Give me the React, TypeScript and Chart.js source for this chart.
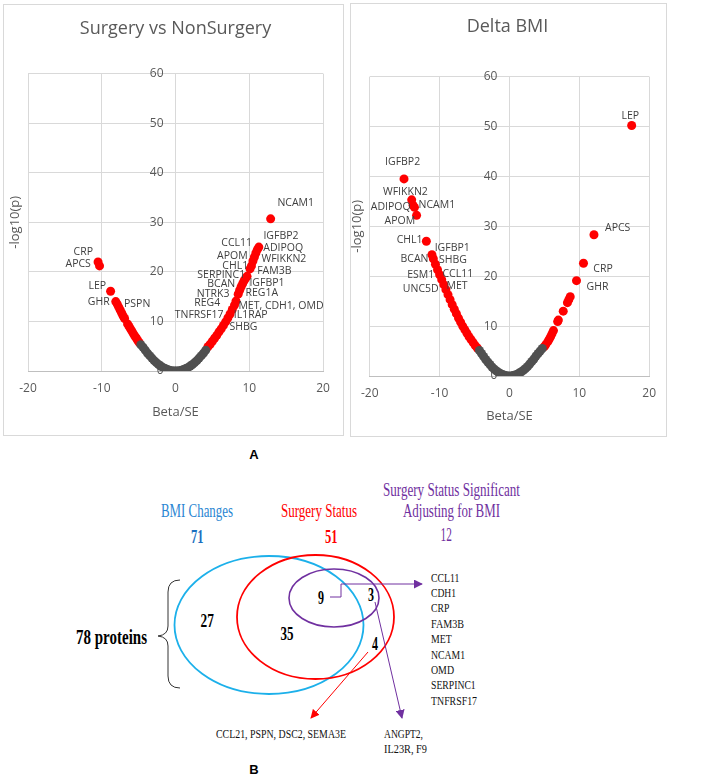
import React, { useEffect, useRef } from "react";
import { Chart, registerables } from "chart.js";

Chart.register(...registerables);

const FONT = "'Open Sans', sans-serif";
const SERIF = "'Liberation Serif', 'Times New Roman', serif";
const AXIS_TEXT = "#595959";
const LABEL_TEXT = "#404040";
const GRID = "#d9d9d9";
const RED = "#ff0000";
const GRAY = "#505050";

const yTickValues = [0, 10, 20, 30, 40, 50, 60];

// ---- Surgery vs NonSurgery ----
const surgGrayX = [-4.7, -4.4, -4.1, -3.8, -3.5, -3.2, -2.9, -2.6, -2.3, -2.0, -1.7, -1.4, -1.1, -0.8, -0.5, -0.2, 0, 0.2, 0.5, 0.8, 1.1, 1.4, 1.7, 2.0, 2.3, 2.6, 2.9, 3.2, 3.5, 3.8, 4.1];
const surgGrayY = [5.3, 4.8, 4.2, 3.6, 3.1, 2.6, 2.1, 1.7, 1.3, 1.0, 0.7, 0.5, 0.3, 0.15, 0.06, 0.01, 0, 0.01, 0.06, 0.15, 0.3, 0.5, 0.7, 1.0, 1.3, 1.7, 2.1, 2.6, 3.1, 3.6, 4.2];
const surgRedX = [-4.9, -5.1, -5.3, -5.5, -5.7, -5.9, -6.1, -6.3, -6.5, -6.9, -7.1, -7.3, -7.5, -7.7, -7.9, -8.1, -8.8, -10.3, -10.5,
  4.4, 4.7, 5.0, 5.3, 5.6, 5.9, 6.2, 6.5, 6.8, 7.1, 7.4, 7.7, 8.0, 8.2, 8.5, 8.7, 8.9, 9.1, 9.3, 9.5, 9.7, 10.1, 10.3, 10.5, 10.7, 10.9, 11.1, 11.3, 12.9];
const surgRedY = [5.7, 6.1, 6.6, 7.0, 7.5, 8.0, 8.5, 9.0, 9.5, 10.6, 11.1, 11.7, 12.3, 12.9, 13.5, 14.0, 16.1, 21.2, 22.0,
  4.9, 5.4, 6.0, 6.6, 7.2, 7.9, 8.5, 9.2, 9.9, 10.7, 11.5, 12.4, 13.3, 14.1, 15.5, 16.3, 17.0, 17.6, 18.2, 18.7, 19.1, 20.6, 21.2, 22.2, 23.0, 23.8, 24.5, 25.0, 30.7];
const surgLabelText = ["NCAM1", "IGFBP2", "CCL11", "ADIPOQ", "APOM", "WFIKKN2", "CHL1", "FAM3B", "SERPINC1", "IGFBP1", "BCAN", "REG1A", "NTRK3", "REG4", "MET, CDH1, OMD", "TNFRSF17", "IL1RAP", "SHBG", "CRP", "APCS", "LEP", "GHR", "PSPN"];
const surgLabelX = [16.3, 14.3, 8.3, 14.6, 7.7, 14.7, 8.1, 13.4, 6.2, 12.4, 6.2, 11.7, 5.1, 4.3, 14.3, 3.2, 10.2, 9.2, -12.5, -13.2, -10.6, -10.4, -5.2];
const surgLabelY = [33.9, 27.3, 25.9, 24.8, 23.2, 22.6, 21.2, 20.2, 19.4, 17.8, 17.6, 15.8, 15.6, 13.7, 13.1, 11.3, 11.3, 8.9, 24.0, 21.6, 17.2, 13.9, 13.5];

// ---- Delta BMI ----
const bmiGrayX = [-4.3, -4.0, -3.7, -3.4, -3.1, -2.8, -2.5, -2.2, -1.9, -1.6, -1.3, -1.0, -0.7, -0.4, -0.1, 0.2, 0.5, 0.8, 1.1, 1.4, 1.7, 2.0, 2.3, 2.6, 2.9, 3.2, 3.5, 3.8, 4.1, 4.4, 4.7];
const bmiGrayY = [5.1, 4.5, 3.9, 3.3, 2.8, 2.3, 1.8, 1.4, 1.05, 0.75, 0.5, 0.3, 0.15, 0.05, 0, 0.01, 0.08, 0.2, 0.35, 0.6, 0.85, 1.15, 1.5, 1.9, 2.4, 2.9, 3.4, 4.0, 4.5, 5.0, 5.5];
const bmiRedX = [-4.6, -4.9, -5.2, -5.5, -5.8, -6.1, -6.4, -6.7, -7.0, -7.3, -7.6, -7.9, -8.2, -8.5, -8.8, -9.1, -9.4, -9.7, -10.0, -10.3, -10.6, -10.9, -11.1, -11.9, -13.3, -13.6, -13.8, -14.0, -15.1,
  5.0, 5.2, 5.5, 5.7, 5.9, 6.1, 6.3, 6.9, 7.0, 7.7, 8.3, 8.5, 8.7, 9.6, 10.6, 12.1, 17.5];
const bmiRedY = [5.6, 6.1, 6.7, 7.3, 7.9, 8.6, 9.3, 10.0, 10.8, 11.6, 12.5, 13.4, 14.3, 15.3, 16.3, 17.3, 18.3, 19.3, 20.3, 21.3, 22.4, 23.5, 24.3, 27.0, 32.2, 33.8, 34.2, 35.3, 39.5,
  5.9, 6.3, 6.9, 7.4, 7.9, 8.5, 9.1, 10.9, 11.2, 13.0, 14.7, 15.3, 15.9, 19.1, 22.6, 28.3, 50.2];
const bmiLabelText = ["LEP", "APCS", "CRP", "GHR", "IGFBP2", "WFIKKN2", "ADIPOQ", "NCAM1", "APOM", "CHL1", "IGFBP1", "BCAN", "SHBG", "ESM1", "CCL11", "UNC5D", "MET"];
const bmiLabelX = [17.3, 15.5, 13.4, 12.6, -15.3, -14.9, -17.0, -10.4, -15.7, -14.3, -8.2, -13.6, -8.1, -12.7, -7.4, -12.7, -7.5];
const bmiLabelY = [52.2, 29.6, 21.5, 17.9, 42.9, 36.9, 33.8, 34.2, 31.0, 27.2, 25.7, 23.4, 23.2, 20.3, 20.5, 17.5, 18.1];

type PanelSpec = {
  title: string;
  grayX: number[]; grayY: number[];
  redX: number[]; redY: number[];
  labelText: string[]; labelX: number[]; labelY: number[];
  width: number; height: number;
  pad: { left: number; right: number };
  titlePad: { top: number; bottom: number };
  xAxisHeight: number; xTitleBottom: number;
  yTitleX: number;
};

const pts = (xs: number[], ys: number[]) => xs.map((x, i) => ({ x, y: ys[i] }));

function decorPlugin(spec: PanelSpec) {
  return {
    id: "volcanoDecor",
    beforeDatasetsDraw(chart: any) {
      const { ctx, chartArea } = chart;
      const xs = chart.scales.x;
      const ys = chart.scales.y;
      const x0 = xs.getPixelForValue(0);
      ctx.save();
      ctx.fillStyle = AXIS_TEXT;
      ctx.font = `12px ${FONT}`;
      ctx.textAlign = "right";
      ctx.textBaseline = "middle";
      yTickValues.forEach((v) => ctx.fillText(String(v), x0 - 12, ys.getPixelForValue(v)));
      ctx.translate(spec.yTitleX, (chartArea.top + chartArea.bottom) / 2);
      ctx.rotate(-Math.PI / 2);
      ctx.font = `13px ${FONT}`;
      ctx.textAlign = "center";
      ctx.fillText("-log10(p)", 0, 0);
      ctx.restore();
    },
    afterDatasetsDraw(chart: any) {
      const { ctx } = chart;
      const xs = chart.scales.x;
      const ys = chart.scales.y;
      ctx.save();
      ctx.fillStyle = LABEL_TEXT;
      ctx.font = `10.5px ${FONT}`;
      ctx.textAlign = "center";
      ctx.textBaseline = "middle";
      spec.labelText.forEach((t, i) => {
        ctx.fillText(t, xs.getPixelForValue(spec.labelX[i]), ys.getPixelForValue(spec.labelY[i]));
      });
      ctx.restore();
    },
  };
}

function Volcano({ spec, style }: { spec: PanelSpec; style: React.CSSProperties }) {
  const ref = useRef<HTMLCanvasElement | null>(null);
  useEffect(() => {
    if (!ref.current) return;
    const chart = new Chart(ref.current, {
      type: "scatter",
      data: {
        datasets: [
          { label: "ns", data: pts(spec.grayX, spec.grayY), backgroundColor: GRAY, borderWidth: 0, pointRadius: 4.5 },
          { label: "sig", data: pts(spec.redX, spec.redY), backgroundColor: RED, borderWidth: 0, pointRadius: 4.5 },
        ],
      },
      options: {
        animation: false,
        responsive: false,
        layout: { padding: { left: spec.pad.left, right: spec.pad.right, top: 0, bottom: 0 } },
        plugins: {
          legend: { display: false },
          tooltip: { enabled: false },
          title: {
            display: true,
            text: spec.title,
            color: AXIS_TEXT,
            font: { family: FONT, size: 18, weight: "normal" },
            padding: spec.titlePad,
          },
        },
        scales: {
          x: {
            type: "linear",
            min: -20,
            max: 20,
            ticks: { stepSize: 10, color: AXIS_TEXT, font: { family: FONT, size: 12 }, padding: 10, maxRotation: 0 },
            grid: { color: GRID, drawTicks: false },
            border: { color: "#bfbfbf" },
            title: { display: true, text: "Beta/SE", color: AXIS_TEXT, font: { family: FONT, size: 13 }, padding: { top: 0, bottom: spec.xTitleBottom } },
            afterFit: (scale: any) => { scale.height = spec.xAxisHeight; },
          },
          y: {
            type: "linear",
            min: 0,
            max: 60,
            ticks: { display: false, stepSize: 10 },
            grid: { color: GRID, drawTicks: false },
            border: { display: false },
          },
        },
      },
      plugins: [decorPlugin(spec)],
    } as any);
    return () => chart.destroy();
  }, [spec]);
  return <canvas ref={ref} width={spec.width} height={spec.height} style={{ position: "absolute", ...style }} />;
}

const surgSpec: PanelSpec = {
  title: "Surgery vs NonSurgery",
  grayX: surgGrayX, grayY: surgGrayY, redX: surgRedX, redY: surgRedY,
  labelText: surgLabelText, labelX: surgLabelX, labelY: surgLabelY,
  width: 340, height: 431,
  pad: { left: 24, right: 21 },
  titlePad: { top: 13, bottom: 34 },
  xAxisHeight: 65, xTitleBottom: 16,
  yTitleX: 11,
};

const bmiSpec: PanelSpec = {
  title: "Delta BMI",
  grayX: bmiGrayX, grayY: bmiGrayY, redX: bmiRedX, redY: bmiRedY,
  labelText: bmiLabelText, labelX: bmiLabelX, labelY: bmiLabelY,
  width: 315, height: 432,
  pad: { left: 12, right: 14 },
  titlePad: { top: 12, bottom: 39 },
  xAxisHeight: 60, xTitleBottom: 12,
  yTitleX: 6,
};

function T({ x, y, w, size, fill, bold, children, font }: any) {
  return (
    <text x={x} y={y} fontSize={size} fill={fill} fontWeight={bold ? "bold" : "normal"} fontFamily={font || SERIF}
      dominantBaseline="central" textLength={w} lengthAdjust="spacingAndGlyphs">{children}</text>
  );
}

const geneList = ["CCL11", "CDH1", "CRP", "FAM3B", "MET", "NCAM1", "OMD", "SERPINC1", "TNFRSF17"];
const geneWidths = [28.3, 25, 18.3, 33, 20.7, 34, 23, 44.7, 46];

function Venn() {
  const oy = 440;
  const Y = (v: number) => v - oy;
  const BLUE_T = "#2a86d2";
  const BLUE_N = "#1a6fc0";
  const CYAN = "#1cb0ea";
  const PURPLE = "#7030a0";
  return (
    <svg width={709} height={337} style={{ position: "absolute", left: 0, top: oy }}>
      <defs>
        <marker id="pArrow" viewBox="0 0 10 10" refX="9" refY="5" markerWidth="9" markerHeight="9" markerUnits="userSpaceOnUse" orient="auto">
          <path d="M0,0 L10,5 L0,10 z" fill={PURPLE} />
        </marker>
        <marker id="rArrow" viewBox="0 0 10 10" refX="9" refY="5" markerWidth="9" markerHeight="9" markerUnits="userSpaceOnUse" orient="auto">
          <path d="M0,0 L10,5 L0,10 z" fill={RED} />
        </marker>
      </defs>
      <text x={254} y={Y(454)} fontSize={13} fontWeight="bold" fontFamily="'Liberation Sans', Arial, sans-serif" textAnchor="middle" dominantBaseline="central">A</text>
      <text x={254} y={Y(769)} fontSize={13} fontWeight="bold" fontFamily="'Liberation Sans', Arial, sans-serif" textAnchor="middle" dominantBaseline="central">B</text>

      <T x={161} y={Y(511)} w={72} size={18} fill={BLUE_T}>BMI Changes</T>
      <T x={191} y={Y(537)} w={12.5} size={18} fill={BLUE_N} bold>71</T>
      <T x={281} y={Y(511)} w={76} size={18} fill={RED}>Surgery Status</T>
      <T x={325} y={Y(537)} w={12.5} size={18} fill={RED} bold>51</T>
      <T x={383} y={Y(490)} w={137} size={18} fill={PURPLE}>Surgery Status Significant</T>
      <T x={403} y={Y(511)} w={97} size={18} fill={PURPLE}>Adjusting for BMI</T>
      <T x={440.5} y={Y(535)} w={11.3} size={18} fill={PURPLE}>12</T>

      <ellipse cx={269} cy={Y(625)} rx={94.5} ry={69} fill="none" stroke={CYAN} strokeWidth={1.8} />
      <ellipse cx={315.5} cy={Y(617)} rx={78.5} ry={62} fill="none" stroke={RED} strokeWidth={1.8} />
      <ellipse cx={334} cy={Y(598)} rx={45} ry={29} fill="none" stroke={PURPLE} strokeWidth={1.6} />

      <path d={`M180,${Y(580)} Q168,${Y(580)} 168,${Y(592)} L168,${Y(626)} Q168,${Y(635)} 158,${Y(636)} Q168,${Y(637)} 168,${Y(646)} L168,${Y(676)} Q168,${Y(688)} 180,${Y(688)}`}
        fill="none" stroke="#333" strokeWidth={1} />

      <T x={76} y={Y(636)} w={71} size={22} fill="#000" bold>78 proteins</T>
      <T x={200.5} y={Y(621)} w={13.3} size={18} fill="#000" bold>27</T>
      <T x={280.5} y={Y(634)} w={13} size={18} fill="#000" bold>35</T>
      <T x={318} y={Y(598)} w={6} size={18} fill="#000" bold>9</T>
      <T x={368} y={Y(595)} w={6} size={18} fill="#000" bold>3</T>
      <T x={372} y={Y(644)} w={6} size={18} fill="#000" bold>4</T>

      <polyline points={`330,${Y(597)} 341,${Y(597)} 341,${Y(584)} 422,${Y(584)}`} fill="none" stroke={PURPLE} strokeWidth={1} markerEnd="url(#pArrow)" />
      <line x1={375} y1={Y(602)} x2={402} y2={Y(718)} stroke={PURPLE} strokeWidth={1} markerEnd="url(#pArrow)" />
      <line x1={368} y1={Y(652)} x2={311} y2={Y(718)} stroke={RED} strokeWidth={1} markerEnd="url(#rArrow)" />

      {geneList.map((g, i) => (
        <T key={g} x={431} y={Y(577 + i * 15.4)} w={geneWidths[i]} size={13} fill="#111">{g}</T>
      ))}
      <T x={216} y={Y(733)} w={130} size={13} fill="#111">CCL21, PSPN, DSC2, SEMA3E</T>
      <T x={384} y={Y(733)} w={39} size={13} fill="#111">ANGPT2,</T>
      <T x={384} y={Y(748)} w={43} size={13} fill="#111">IL23R,  F9</T>
    </svg>
  );
}

export default function App() {
  return (
    <div style={{ position: "absolute", left: 0, top: 0, width: 709, height: 777, background: "#fff", overflow: "hidden" }}>
      <div style={{ position: "absolute", left: 3, top: 4, width: 341, height: 432, border: "1px solid #d9d9d9", boxSizing: "border-box" as any }} />
      <div style={{ position: "absolute", left: 350, top: 3, width: 317, height: 434, border: "1px solid #d9d9d9", boxSizing: "border-box" as any }} />
      <Volcano spec={surgSpec} style={{ left: 4, top: 5 }} />
      <Volcano spec={bmiSpec} style={{ left: 351, top: 4 }} />
      <Venn />
    </div>
  );
}
